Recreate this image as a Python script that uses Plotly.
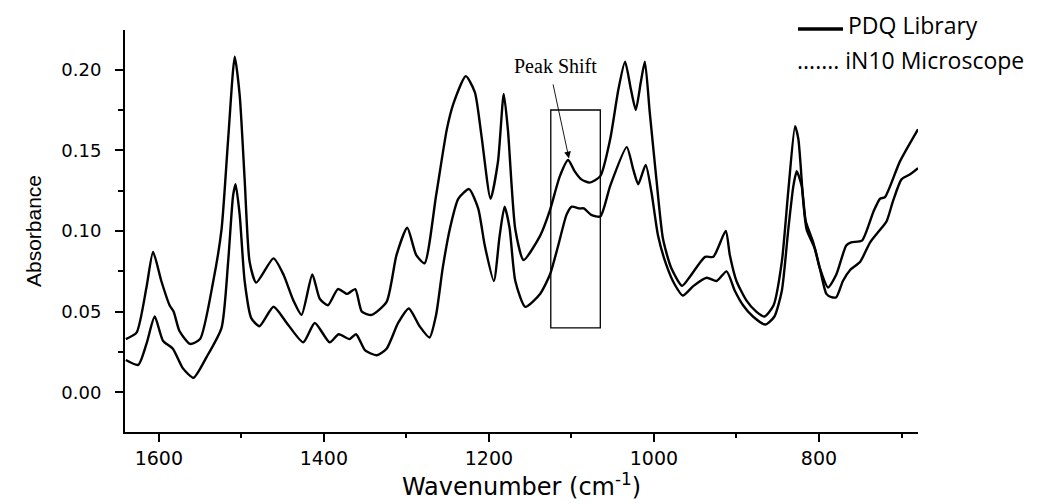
import plotly.graph_objects as go

# PDQ Library reference spectrum
pdq_wn = [1640, 1627, 1615, 1607, 1597, 1587, 1582, 1575, 1562, 1550, 1534, 1524, 1516, 1508,
          1502, 1496, 1490, 1482, 1461, 1449, 1437, 1427, 1414, 1405, 1395, 1383, 1372, 1362,
          1354, 1342, 1324, 1312, 1299, 1288, 1278, 1264, 1251, 1243, 1228, 1217, 1209, 1198,
          1189, 1182, 1177, 1168, 1158, 1138, 1126, 1114, 1104, 1096, 1088, 1078, 1065, 1053,
          1043, 1035, 1028, 1022, 1016, 1011, 1005, 997, 989, 979, 966, 956, 938, 928, 913,
          908, 900, 888, 876, 866, 855, 845, 837, 829, 825, 819, 815, 805, 799, 789, 779, 767,
          761, 748, 734, 726, 720, 702, 680]
pdq_abs = [0.033, 0.037, 0.065, 0.087, 0.069, 0.054, 0.050, 0.038, 0.030, 0.033, 0.069, 0.101,
           0.157, 0.208, 0.184, 0.132, 0.081, 0.068, 0.083, 0.073, 0.057, 0.048, 0.073, 0.058,
           0.054, 0.064, 0.061, 0.064, 0.050, 0.048, 0.056, 0.085, 0.102, 0.085, 0.080, 0.122,
           0.163, 0.179, 0.196, 0.186, 0.159, 0.120, 0.143, 0.185, 0.163, 0.101, 0.082, 0.097,
           0.113, 0.134, 0.144, 0.137, 0.132, 0.130, 0.134, 0.157, 0.188, 0.205, 0.188, 0.175,
           0.192, 0.205, 0.173, 0.132, 0.095, 0.077, 0.066, 0.072, 0.084, 0.084, 0.100, 0.085,
           0.069, 0.057, 0.050, 0.047, 0.054, 0.081, 0.126, 0.165, 0.157, 0.118, 0.101, 0.089,
           0.077, 0.065, 0.073, 0.091, 0.093, 0.094, 0.112, 0.120, 0.121, 0.143, 0.163]

# iN10 microscope measurement
in10_wn = [1640, 1625, 1615, 1605, 1595, 1583, 1571, 1558, 1542, 1524, 1516, 1510, 1507, 1502,
           1496, 1488, 1478, 1461, 1445, 1425, 1411, 1393, 1382, 1369, 1361, 1350, 1336, 1324,
           1310, 1297, 1284, 1272, 1264, 1256, 1247, 1237, 1224, 1213, 1205, 1194, 1187, 1181,
           1175, 1168, 1156, 1138, 1126, 1116, 1106, 1100, 1090, 1085, 1076, 1065, 1053, 1033,
           1025, 1019, 1010, 1003, 995, 985, 975, 965, 952, 936, 924, 912, 902, 892, 880, 865,
           854, 845, 837, 831, 827, 821, 816, 807, 799, 791, 785, 779, 771, 762, 750, 738, 724,
           718, 710, 700, 690, 680]
in10_abs = [0.020, 0.017, 0.030, 0.047, 0.032, 0.027, 0.015, 0.009, 0.022, 0.040, 0.081, 0.122,
            0.129, 0.110, 0.069, 0.046, 0.041, 0.053, 0.043, 0.031, 0.043, 0.031, 0.036, 0.033,
            0.036, 0.026, 0.023, 0.027, 0.043, 0.052, 0.041, 0.034, 0.048, 0.077, 0.102, 0.120,
            0.126, 0.114, 0.091, 0.069, 0.097, 0.115, 0.102, 0.069, 0.053, 0.061, 0.073, 0.091,
            0.110, 0.115, 0.114, 0.114, 0.110, 0.109, 0.128, 0.152, 0.138, 0.129, 0.141, 0.124,
            0.097, 0.079, 0.067, 0.060, 0.066, 0.071, 0.069, 0.075, 0.063, 0.054, 0.047, 0.042,
            0.047, 0.063, 0.102, 0.128, 0.137, 0.128, 0.106, 0.093, 0.077, 0.061, 0.059, 0.059,
            0.069, 0.076, 0.081, 0.093, 0.102, 0.106, 0.119, 0.132, 0.135, 0.139]

x_ticks = [1600, 1400, 1200, 1000, 800]
y_ticks = [0.00, 0.05, 0.10, 0.15, 0.20]
y_tick_labels = ["0.00", "0.05", "0.10", "0.15", "0.20"]

# highlighted region (wavenumber span, absorbance span)
box_wn = [1125, 1065]
box_abs = [0.040, 0.175]
arrow_tip = (1103, 0.145)

# plot area in pixels and helpers for paper coordinates
W0, W1, H0, H1 = 125, 918, 30, 435
def px(x):
    return (x - W0) / (W1 - W0)
def py(y):
    return (H1 - y) / (H1 - H0)

fig = go.Figure()
for wn, ab, name in [(pdq_wn, pdq_abs, "PDQ Library"), (in10_wn, in10_abs, "iN10 Microscope")]:
    fig.add_trace(go.Scatter(
        x=wn, y=ab, mode="lines", name=name,
        line=dict(color="black", width=2.4, shape="spline", smoothing=0.6),
        showlegend=False,
    ))

fig.add_shape(type="rect", xref="x", yref="y",
              x0=box_wn[0], x1=box_wn[1], y0=box_abs[0], y1=box_abs[1],
              line=dict(color="black", width=1.3))

fig.add_annotation(x=arrow_tip[0], y=arrow_tip[1], xref="x", yref="y",
                   text=" ", showarrow=True, arrowhead=2, arrowsize=1.5,
                   arrowwidth=0.9, arrowcolor="black", ax=-18, ay=-84)
fig.add_annotation(x=px(555), y=py(66), xref="paper", yref="paper", text="Peak Shift",
                   showarrow=False, xanchor="center", yanchor="middle",
                   font=dict(family="Liberation Serif", size=20, color="black"))

# legend drawn as text entries at the top right
fig.add_shape(type="line", xref="paper", yref="paper",
              x0=px(798), x1=px(843), y0=py(29), y1=py(29),
              line=dict(color="black", width=3.5))
fig.add_annotation(x=px(846), y=py(25), xref="paper", yref="paper",
                   text="PDQ Library", showarrow=False, xanchor="left", yanchor="middle",
                   font=dict(family="Open Sans", size=23, color="black"))
fig.add_annotation(x=px(795), y=py(60), xref="paper", yref="paper",
                   text="....... iN10 Microscope", showarrow=False, xanchor="left",
                   yanchor="middle",
                   font=dict(family="Open Sans", size=23, color="black"))

fig.update_xaxes(
    range=[1641, 680], tickvals=x_ticks, ticktext=[str(v) for v in x_ticks],
    showline=True, linecolor="black", linewidth=2, mirror=False,
    ticks="outside", ticklen=8, tickwidth=2, tickcolor="black",
    minor=dict(tickvals=[1500, 1300, 1100, 900, 700], ticks="outside", ticklen=4,
               tickwidth=2, tickcolor="black"),
    showgrid=False, zeroline=False,
    tickfont=dict(family="DejaVu Sans", size=19, color="black"),
    title=dict(text="Wavenumber (cm<sup>-1</sup>)", standoff=6,
               font=dict(family="DejaVu Sans", size=24, color="black")),
)
fig.update_yaxes(
    range=[-0.0246, 0.2246], tickvals=y_ticks, ticktext=y_tick_labels,
    showline=True, linecolor="black", linewidth=2, mirror=False,
    ticks="outside", ticklen=8, tickwidth=2, tickcolor="black",
    ticklabelstandoff=10,
    minor=dict(tickvals=[-0.025, 0.025, 0.075, 0.125, 0.175, 0.225], ticks="outside",
               ticklen=5, tickwidth=2, tickcolor="black"),
    showgrid=False, zeroline=False,
    tickfont=dict(family="DejaVu Sans", size=18, color="black"),
    title=dict(text="Absorbance", standoff=14,
               font=dict(family="Liberation Sans", size=21, color="black")),
)

fig.update_layout(
    width=1064, height=504,
    margin=dict(l=W0, r=1064 - W1, t=H0, b=504 - H1, pad=0),
    paper_bgcolor="white", plot_bgcolor="white",
)

fig.write_html("out.html")
